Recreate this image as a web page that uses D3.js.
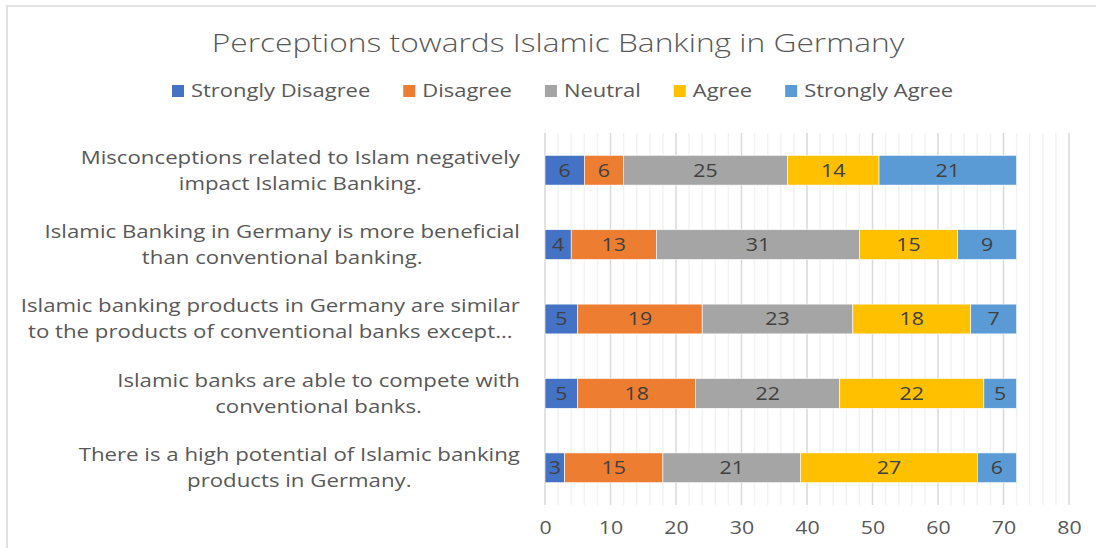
<!DOCTYPE html>
<html>
<head>
<meta charset="utf-8">
<script src="https://cdn.jsdelivr.net/npm/d3@7"></script>
<style>
  body { margin: 0; background: #fff; }
  text { font-family: "Open Sans", sans-serif; }
</style>
</head>
<body>
<div id="chart"></div>
<script>
// data
var categories = [
  "Misconceptions related to Islam negatively\nimpact Islamic Banking.",
  "Islamic Banking in Germany is more beneficial\nthan conventional banking.",
  "Islamic banking products in Germany are similar\nto the products of conventional banks except...",
  "Islamic banks are able to compete with\nconventional banks.",
  "There is a high potential of Islamic banking\nproducts in Germany."
];
var seriesNames = ["Strongly Disagree", "Disagree", "Neutral", "Agree", "Strongly Agree"];
var stronglyDisagree = [6, 4, 5, 5, 3];
var disagree = [6, 13, 19, 18, 15];
var neutral = [25, 31, 23, 22, 21];
var agree = [14, 15, 18, 22, 27];
var stronglyAgree = [21, 9, 7, 5, 6];
var xTicks = [0, 10, 20, 30, 40, 50, 60, 70, 80];
var colors = ["#4472C4", "#ED7D31", "#A5A5A5", "#FFC000", "#5B9BD5"];

var W = 1096, H = 548;
var plot = { left: 545, right: 1069, top: 133, bottom: 505 };
var stretch = 1.22; // the picture's text is a bit wider than Open Sans

// place a text with a horizontal stretch around its anchor
function put(sel, px, py) {
  return sel.attr("transform", "translate(" + px + "," + py + ") scale(" + stretch + ",1)");
}

// build rows for the stack
var series = [stronglyDisagree, disagree, neutral, agree, stronglyAgree];
var rows = categories.map(function (c, i) {
  var r = { cat: c };
  seriesNames.forEach(function (s, j) { r[s] = series[j][i]; });
  return r;
});
var stacked = d3.stack().keys(seriesNames)(rows);

var svg = d3.select("#chart").append("svg")
  .attr("width", W)
  .attr("height", H);

// chart area border (only top and left are in frame)
svg.append("rect")
  .attr("x", 7).attr("y", 6)
  .attr("width", W + 20).attr("height", H + 20)
  .attr("fill", "#fff")
  .attr("stroke", "#d9d9d9")
  .attr("stroke-width", 1.5);

var x = d3.scaleLinear().domain([0, 80]).range([plot.left, plot.right]);
var y = d3.scaleBand().domain(categories).range([plot.top, plot.bottom])
  .paddingInner(0.6).paddingOuter(0.3);

// minor gridlines every 2
svg.append("g")
  .selectAll("line")
  .data(d3.range(0, 81, 2).filter(function (v) { return v % 10 !== 0; }))
  .enter().append("line")
  .attr("x1", function (d) { return x(d); })
  .attr("x2", function (d) { return x(d); })
  .attr("y1", plot.top).attr("y2", plot.bottom)
  .attr("stroke", "#f2f2f2")
  .attr("stroke-width", 1.5);

// major gridlines
svg.append("g")
  .selectAll("line")
  .data(xTicks)
  .enter().append("line")
  .attr("x1", function (d) { return x(d); })
  .attr("x2", function (d) { return x(d); })
  .attr("y1", plot.top).attr("y2", plot.bottom)
  .attr("stroke", "#d9d9d9")
  .attr("stroke-width", 1.5);

// bars
var layer = svg.append("g")
  .selectAll("g")
  .data(stacked)
  .enter().append("g")
  .attr("fill", function (d, i) { return colors[i]; });

layer.selectAll("rect")
  .data(function (d) { return d; })
  .enter().append("rect")
  .attr("x", function (d) { return x(d[0]); })
  .attr("y", function (d) { return y(d.data.cat); })
  .attr("width", function (d) { return x(d[1]) - x(d[0]); })
  .attr("height", y.bandwidth())
  .attr("stroke", "#fff")
  .attr("stroke-width", 0.6);

// data labels
layer.selectAll("text")
  .data(function (d) { return d; })
  .enter().append("text")
  .each(function (d) {
    put(d3.select(this), (x(d[0]) + x(d[1])) / 2, y(d.data.cat) + y.bandwidth() / 2);
  })
  .attr("dy", "0.36em")
  .attr("text-anchor", "middle")
  .attr("fill", "#404040")
  .style("font-size", "17.5px")
  .text(function (d) { return d[1] - d[0]; });

// x axis
var xAxis = svg.append("g")
  .attr("transform", "translate(0," + plot.bottom + ")")
  .call(d3.axisBottom(x).tickValues(xTicks).tickSize(0).tickPadding(17));
xAxis.select(".domain").remove();
xAxis.selectAll("text")
  .attr("fill", "#595959")
  .attr("transform", "scale(" + stretch + ",1)")
  .attr("x", 0)
  .style("font-size", "17.5px")
  .style("font-family", "'Open Sans', sans-serif");

// category labels: block right-aligned, lines centered within it
var catStretch = 1.235;
var catG = svg.append("g");
categories.forEach(function (c) {
  var lines = c.split("\n");
  var g = catG.append("g");
  var texts = lines.map(function (l) {
    return g.append("text")
      .attr("dy", "0.36em")
      .attr("text-anchor", "middle")
      .attr("fill", "#595959")
      .style("font-size", "18px")
      .text(l);
  });
  var maxW = d3.max(texts, function (t) { return t.node().getComputedTextLength(); }) * catStretch;
  var cx = 520 - maxW / 2;
  texts.forEach(function (t, k) {
    var ty = y(c) + y.bandwidth() / 2 + (k - (lines.length - 1) / 2) * 26;
    t.attr("transform", "translate(" + cx + "," + ty + ") scale(" + catStretch + ",1)");
  });
});

// title
put(svg.append("text"), 558, 52)
  .attr("text-anchor", "middle")
  .attr("fill", "#595959")
  .style("font-size", "26px")
  .style("font-weight", 300)
  .text("Perceptions towards Islamic Banking in Germany");

// legend
var legX = 172;
var leg = svg.append("g");
seriesNames.forEach(function (s, i) {
  leg.append("rect")
    .attr("x", legX).attr("y", 85)
    .attr("width", 12).attr("height", 12)
    .attr("fill", colors[i]);
  var t = put(leg.append("text"), legX + 19, 91)
    .attr("dy", "0.36em")
    .attr("fill", "#595959")
    .style("font-size", "18px")
    .text(s);
  legX += 19 + t.node().getComputedTextLength() * stretch + 33;
});
</script>
</body>
</html>
